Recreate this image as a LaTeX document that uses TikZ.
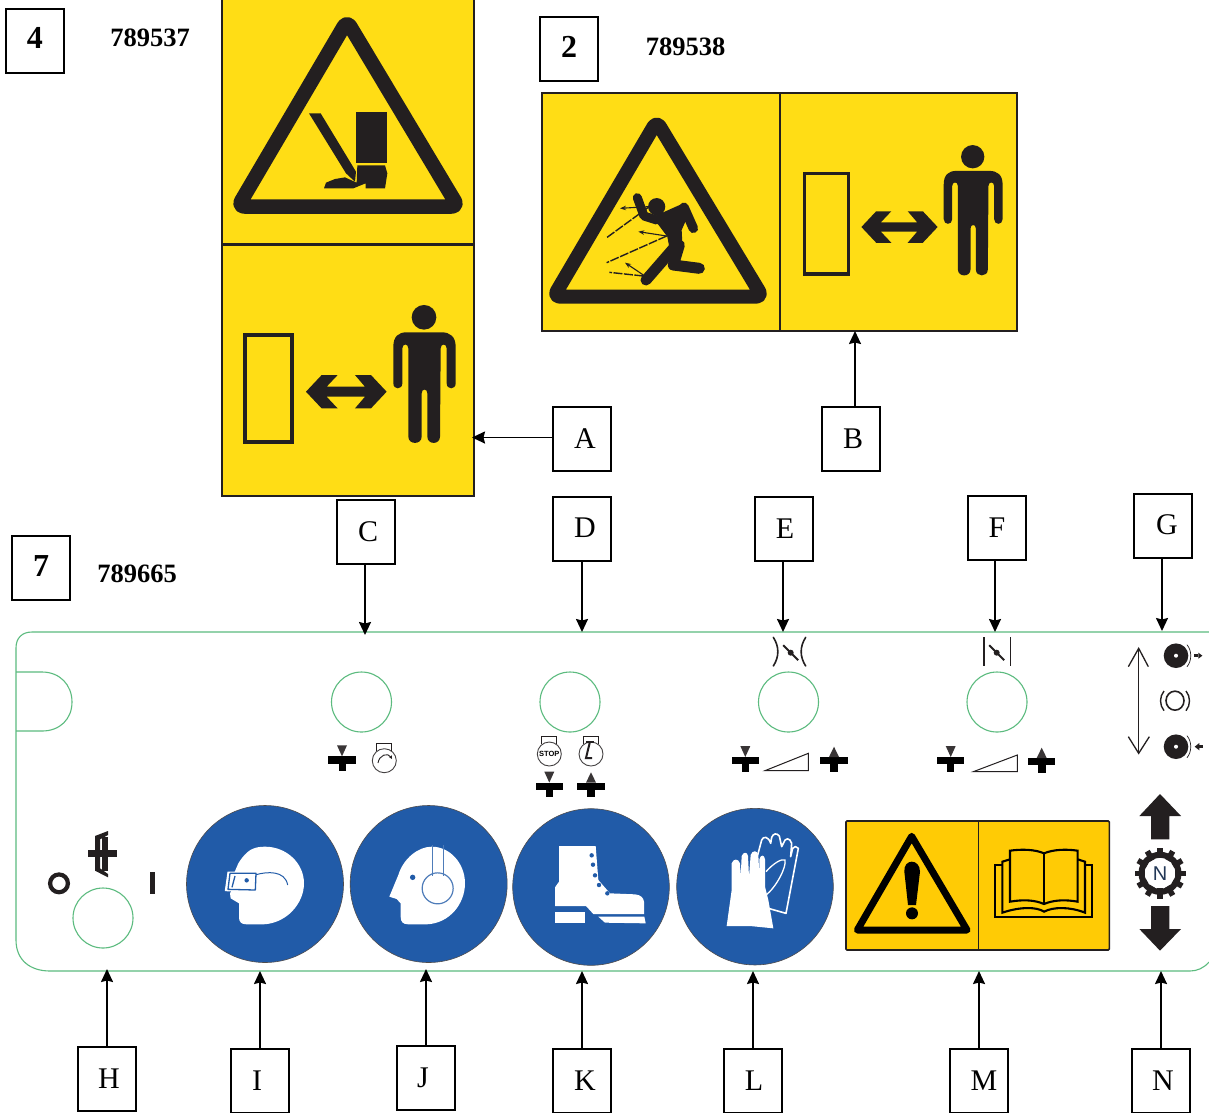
\documentclass[tikz,border=0pt]{standalone}
\usepackage{fontspec}
\setmainfont{Liberation Serif}
\newfontfamily\sansf{Liberation Sans}
\usetikzlibrary{arrows.meta}
\definecolor{ink}{HTML}{231F20}
\definecolor{signy}{HTML}{FFDD15}
\definecolor{signo}{HTML}{FFCB05}
\definecolor{mblue}{HTML}{215BA8}
\definecolor{pgreen}{HTML}{5CBB7F}
\tikzset{
  zoomed/.style 2 args={shift={(#1,#2)},x=0.33333pt,y=-0.33333pt},
  lab/.style={draw=black,line width=1.3pt,minimum width=58pt,minimum height=64pt,inner sep=0pt,font=\fontsize{30}{30}\selectfont},
  tag/.style={lab,font=\bfseries\fontsize{32}{32}\selectfont},
  num/.style={inner sep=0pt,font=\bfseries\fontsize{26.5}{26.5}\selectfont},
  conn/.style={draw=black,line width=1.8pt,-{Stealth[length=13pt,width=12pt,inset=1.5pt]}},
  tri/.style={draw=ink,line join=round,line width=14.5pt},
  pan/.style={draw=pgreen,line width=1.1pt},
  disc/.style={fill=mblue,draw=ink!80,line width=.6pt},
}
\newcommand{\tx}[3]{\raisebox{#2pt}{\kern#1pt #3}}
\newcommand{\manfig}[3]{\begin{scope}[shift={(#1,#2)},x=#3pt,y=-#3pt]\begin{scope}[shift={(-597,-67)}]
 \fill[ink] (597,67) circle[radius=37*#3pt];
 \fill[ink] (505,155) .. controls (505,125) and (520,112) .. (545,112) -- (650,112) .. controls (675,112) and (692,125) .. (692,155) -- (692,265) .. controls (692,285) and (665,285) .. (665,265) -- (665,160) .. controls (665,145) and (647,145) .. (647,160) -- (645,425) .. controls (645,450) and (607,450) .. (607,425) -- (607,295) .. controls (607,280) and (590,280) .. (590,295) -- (590,425) .. controls (590,450) and (550,450) .. (550,425) -- (550,160) .. controls (550,145) and (532,145) .. (532,160) -- (532,265) .. controls (532,285) and (505,285) .. (505,265) -- cycle;
\end{scope}\end{scope}}
\newcommand{\dblarrow}[3]{\begin{scope}[shift={(#1,#2)},x=#3pt,y=-#3pt]
 \fill[ink] (-121,0) -- (-74,-50) -- (-26,-50) -- (-59,-15) -- (56,-15) -- (26,-50) -- (74,-50) -- (121,0) -- (74,50) -- (26,50) -- (56,15) -- (-59,15) -- (-26,50) -- (-74,50) -- cycle;
\end{scope}}
\newcommand{\plusdn}[2]{\begin{scope}[shift={(#1,#2)}]
 \fill[black] (-13.7,-3.7) rectangle (13.7,3.7); \fill[black] (-3.5,3.7) rectangle (3.5,11);
 \fill[ink!90] (-5,-14.7) -- (5,-14.7) -- (0,-3.7) -- cycle;
\end{scope}}
\newcommand{\plusup}[2]{\begin{scope}[shift={(#1,#2)}]
 \fill[black] (-13.7,-3.7) rectangle (13.7,3.7); \fill[black] (-4,3.7) rectangle (4,11);
 \fill[ink!90] (-5,-3.7) -- (5,-3.7) -- (0,-14) -- cycle;
\end{scope}}
\newcommand{\engine}[2]{\begin{scope}[shift={(#1,#2)}]
 \draw[ink!85,line width=.9pt] (0,0) circle[radius=12pt];
 \draw[ink,line width=.9pt] (-7.5,-10) -- (-7.5,-17.5) -- (7.5,-17.5) -- (7.5,-10);
\end{scope}}
\newcommand{\butterfly}[2]{\begin{scope}[shift={(#1,#2)}]
 \draw[ink,line width=1.8pt] (-7.5,-7.5) -- (7.5,7.5);
 \fill[ink] (0,0) circle[radius=3pt];
\end{scope}}
\newcommand{\roll}[2]{\begin{scope}[shift={(#1,#2)}]
 \fill[ink] (0,0) circle[radius=12.3pt];
 \fill[white] (0,0) circle[radius=2pt];
 \draw[ink,line width=.7pt] (11,-11) .. controls (16,-5) and (16,5) .. (11,11);
\end{scope}}
\begin{document}
\begin{tikzpicture}[x=1pt,y=-1pt]
\useasboundingbox (0,0) rectangle (1209,1112);
\fill[white] (0,0) rectangle (1209,1112);

% ---- sign 4 ----
\fill[signy] (222,-3) rectangle (474,496);
\draw[ink,line width=2.2pt] (222,-3) -- (222,496) -- (474,496) -- (474,-3);
\draw[ink,line width=2.2pt] (222,244.5) -- (474,244.5);
\draw[tri,rounded corners=6.5pt] (347,21) -- (238,206.5) -- (458,206.5) -- cycle;
\begin{scope}[zoomed={220}{0}]
 \fill[ink] (407,335) rectangle (502,490);
 \fill[ink] (412,496) -- (495,496) -- (502,520) -- (495,565) -- (437,565) -- (437,550) -- (400,565) -- (312,565) -- (318,548) -- (345,537) -- (375,532) -- (410,548) -- cycle;
 \fill[ink] (267,340) -- (302,340) -- (408,515) -- (405,545) -- (378,520) -- cycle;
\end{scope}
\draw[ink,line width=4pt] (245.3,334.7) rectangle (292.3,441.7);
\dblarrow{346.3}{391.7}{0.33333}
\manfig{424}{317.3}{0.33333}

% ---- sign 2 ----
\fill[signy,draw=ink,line width=2.2pt] (542,93) rectangle (1017,331);
\draw[ink,line width=2pt] (779.5,93) -- (779.5,331);
\begin{scope}[zoomed={540}{90}]
 \draw[tri,rounded corners=6.5pt,line width=14pt] (350,94) -- (41,620) -- (667,620) -- cycle;
 \fill[ink] (350,350) circle[radius=8.6pt];
 \fill[ink] (345,378) -- (430,340) -- (448,368) -- (425,420) -- (428,480) -- (395,510) -- (382,440) -- (352,400) -- cycle;
 \draw[ink,line width=9pt,line cap=round,line join=round] (292,323) -- (312,378) -- (350,390);
 \draw[ink,line width=9.5pt,line cap=round,line join=round] (432,352) -- (460,415);
 \draw[ink,line width=11pt,line cap=round,line join=round] (418,465) -- (400,525) -- (478,535);
 \draw[ink,line width=11pt,line cap=round,line join=round] (405,470) -- (318,570);
 \draw[ink,line width=1.1pt,-{Stealth[length=6pt,width=4.5pt]}] (325,350) -- (240,355);
 \draw[ink,line width=1.1pt,-{Stealth[length=6pt,width=4.5pt]}] (380,438) -- (295,425);
 \draw[ink,line width=1.1pt,-{Stealth[length=6pt,width=4.5pt]}] (310,555) -- (255,518);
 \draw[ink,line width=1.4pt,dash pattern=on 9pt off 1.5pt] (325,352) -- (200,443);
 \draw[ink,line width=1.4pt,dash pattern=on 9pt off 1.5pt] (380,438) -- (200,518);
 \draw[ink,line width=1.4pt,dash pattern=on 9pt off 1.5pt] (310,558) -- (208,547);
\end{scope}
\draw[ink,line width=3.7pt] (804.5,173.5) rectangle (848.5,274);
\dblarrow{899.5}{227}{0.31500}
\manfig{972.7}{156.7}{0.31500}

% ---- panel 7 ----
\draw[pan] (1209,632) -- (32,632) .. controls (22,632) and (16,638) .. (16,648) -- (16,940) .. controls (16,960) and (30,971) .. (50,971) -- (1190,971) .. controls (1197,971) and (1204,968) .. (1209,962);
\draw[pan] (16,672) -- (42,672) .. controls (60,672) and (72,685) .. (72,702) .. controls (72,719) and (60,731) .. (42,731) -- (16,731);
\foreach \cx/\cy in {361.5/702,570/702,788.5/702,997/702,103/918}
  \draw[pgreen,line width=1.1pt] (\cx,\cy) circle[radius=30pt];

% symbols above/below knobs
\plusdn{342}{760}
\engine{384.3}{760.7}
\draw[ink,line width=.9pt,-{Stealth[length=3.5pt,width=3.5pt]}] (378,763) .. controls (379,755) and (388,752) .. (392,759);
\engine{549.3}{754}
\node[inner sep=0pt,font=\sansf\bfseries\fontsize{7.5}{7.5}\selectfont] (stoptxt) at (549.3,754) {STOP};
\engine{591}{754}
\draw[ink,line width=2pt] (586,741.5) -- (594,741.5);
\draw[ink,line width=2pt] (590,741.5) -- (586,758) -- (592,758);
\plusdn{549.3}{786.3}
\plusup{591}{786.3}
\begin{scope}[zoomed={720}{630}]
 \draw[ink,line width=1.6pt,line cap=round] (160,22) .. controls (178,50) and (178,80) .. (160,108);
 \draw[ink,line width=1.6pt,line cap=round] (257,22) .. controls (239,50) and (239,80) .. (257,108);
 \draw[ink,line width=1.5pt] (792,22) -- (792,108);
 \draw[ink,line width=1.5pt] (872,22) -- (872,108);
 \draw[ink,line width=1pt] (135,422) -- (265,370) -- (265,422) -- cycle;
 \draw[ink,line width=1pt] (760,425) -- (892,375) -- (892,425) -- cycle;
\end{scope}
\butterfly{790.7}{652.7}
\butterfly{996.7}{652.7}
\plusdn{745.3}{760.7}
\plusup{834}{760.7}
\plusdn{950.7}{760.7}
\plusup{1041.7}{761.7}

% right column
\begin{scope}[zoomed={1100}{630}]
 \draw[ink,line width=1.3pt,line join=miter] (85,110) -- (116,55) -- (145,110);
 \draw[ink,line width=1.3pt,line join=miter] (85,320) -- (116,370) -- (148,320);
 \draw[ink,line width=1.3pt] (116,55) -- (116,370);
 \draw[ink,line width=1.6pt] (225,212) ellipse[x radius=9pt,y radius=9.5pt];
 \draw[ink,line width=1.4pt] (192,183) .. controls (178,200) and (178,225) .. (192,242);
 \draw[ink,line width=1.4pt] (258,183) .. controls (272,200) and (272,225) .. (258,242);
 \fill[ink] (283,72) rectangle (295,82); \fill[ink] (295,68) -- (307,77) -- (295,86) -- cycle;
 \fill[ink] (298,345) rectangle (310,355); \fill[ink] (298,339) -- (284,350) -- (298,361) -- cycle;
 \fill[ink] (180,492) -- (243,558) -- (208,558) -- (208,628) -- (153,628) -- (153,558) -- (118,558) -- cycle;
 \fill[ink] (153,828) -- (208,828) -- (208,897) -- (243,897) -- (180,962) -- (118,897) -- (153,897) -- cycle;
\end{scope}
\roll{1176}{655.7}
\roll{1176}{746.7}
\begin{scope}[shift={(1160,873.3)}]
 \foreach \a in {0,30,...,330}
   \fill[ink,rotate=\a] (-2.8,-25.5) rectangle (2.8,-15);
 \draw[ink,line width=6pt] (0,0) circle[radius=18.5pt];
\end{scope}
\node[inner sep=0pt,text=ink!60!mblue,font=\sansf\fontsize{20}{20}\selectfont] (gearN) at (1160,873.3) {N};

% left switch
\begin{scope}[zoomed={20}{800}]
 \draw[ink,line width=4.2pt] (117,250) circle[radius=8.9pt];
 \fill[ink] (390,217) rectangle (404,282);
 \fill[ink] (225,108) -- (264,93) -- (264,105) -- (240,118) -- (240,205) -- (264,222) -- (264,232) -- (225,212) -- cycle;
 \fill[ink] (245,112) rectangle (264,212);
 \fill[ink] (205,150) rectangle (292,172);
 % blue discs
 \draw[disc] (735,252) circle[radius=78.5pt];
 \draw[disc] (1226,252) circle[radius=78.5pt];
 % goggles head
 \fill[white] (657,350) -- (657,310) -- (632,295) -- (630,280) -- (640,262) -- (640,225) -- (655,190) .. controls (680,150) and (700,140) .. (735,140) .. controls (800,140) and (852,190) .. (852,250) .. controls (852,310) and (800,370) .. (730,373) -- (680,373) .. controls (662,373) and (657,365) .. (657,350) -- cycle;
 \fill[white,draw=white,line width=1pt,line join=round] (624,216) -- (712,216) -- (710,276) -- (616,272) -- cycle;
 \draw[mblue,line width=1.3pt,line join=round] (630,220) -- (708,220) -- (706,270) -- (624,268) -- cycle;
 \draw[mblue,line width=1.3pt] (645,228) -- (636,262);
 \fill[mblue] (680,241) circle[radius=2.2pt];
 \draw[mblue,line width=1pt] (708,224) .. controls (740,215) and (795,210) .. (803,255);
 % headphones head
 \fill[white] (1142,350) -- (1142,310) -- (1130,297) -- (1108,290) -- (1135,225) .. controls (1150,175) and (1195,140) .. (1235,140) .. controls (1290,140) and (1335,190) .. (1335,250) .. controls (1335,310) and (1290,370) .. (1220,373) -- (1165,373) .. controls (1148,373) and (1142,365) .. (1142,350) -- cycle;
 \draw[mblue!80!white,line width=1.2pt] (1237,135) -- (1237,228);
 \draw[mblue!80!white,line width=1.2pt] (1270,135) -- (1270,228);
 \draw[mblue!80!white,line width=1.2pt] (1253,265) circle[radius=15.5pt];
 \fill[mblue] (1178,232) circle[radius=2.7pt];
\end{scope}

% boot and gloves
\begin{scope}[zoomed={510}{800}]
 \draw[disc] (243,261) circle[radius=78.3pt];
 \draw[disc] (735,260) circle[radius=78.3pt];
 \fill[white] (147,138) -- (257,138) -- (265,240) -- (300,280) -- (375,283) .. controls (392,285) and (400,292) .. (402,305) -- (402,342) -- (250,342) -- (228,318) -- (135,318) -- (135,262) -- (147,245) -- cycle;
 \fill[white] (135,335) rectangle (226,368);
 \fill[white] (265,350) -- (403,350) -- (407,370) -- (285,368) -- cycle;
 \foreach \dx/\dy in {245/166,249/194,255/226,267/255,292/280}
   \fill[mblue] (\dx,\dy) circle[radius=2.2pt];
 \draw[white,line width=1.6pt,line join=round] (775,325) -- (828,340) -- (865,145) .. controls (860,138) and (852,138) .. (848,145) -- (842,170) -- (845,130) .. controls (840,112) and (825,112) .. (820,130) -- (815,140) -- (808,108) .. controls (800,98) and (790,100) .. (785,112) -- (782,130) .. controls (775,108) and (760,108) .. (755,120) -- (743,165);
 \draw[white,line width=1.3pt] (768,215) .. controls (790,190) and (815,175) .. (825,180) .. controls (830,200) and (800,260) .. (768,285);
 \fill[white] (650,378) -- (665,270) -- (665,190) .. controls (670,175) and (685,175) .. (690,190) -- (692,230) -- (695,168) .. controls (700,155) and (712,155) .. (714,168) -- (717,230) -- (722,165) .. controls (727,150) and (742,150) .. (745,165) -- (748,225) -- (748,178) .. controls (752,163) and (763,163) .. (765,178) -- (765,260) -- (775,300) -- (790,385) -- (720,378) -- cycle;
\end{scope}

% book/warning sign
\begin{scope}[zoomed={840}{810}]
 \fill[signo,draw=ink,line width=1.6pt,rounded corners=1pt] (18,33) rectangle (808,420);
 \draw[ink,line width=1.4pt] (415,33) -- (415,420);
 \draw[black,line width=7pt,line join=round] (215,79) -- (52,360) -- (381,360) -- cycle;
 \fill[black] (193,185) .. controls (190,145) and (240,145) .. (240,185) -- (228,285) -- (204,285) -- cycle;
 \fill[black] (216,310) circle[radius=6pt];
 \draw[black,line width=2.1pt] (612,130) -- (612,282);
 \draw[black,line width=2.1pt,line join=miter] (612,130) .. controls (585,118) and (545,117) .. (510,122) -- (510,275) .. controls (550,268) and (585,270) .. (612,282) .. controls (640,270) and (675,268) .. (713,275) -- (713,122) .. controls (680,117) and (640,118) .. (612,130);
 \draw[black,line width=2.1pt,line join=miter] (510,148) -- (487,155) -- (487,308) .. controls (540,290) and (590,290) .. (612,305) .. controls (640,290) and (690,290) .. (735,308) -- (735,155) -- (713,148);
 \draw[black,line width=2.1pt,line join=miter] (487,165) -- (465,165) -- (465,322) -- (757,322) -- (757,165) -- (735,165);
\end{scope}

% ---- labels ----
\node[tag] (t4) at (35,41) {\raisebox{7pt}{4}};
\node[num] (n4) at (150,38) {789537};
\node[tag] (t2) at (569,49) {\raisebox{4pt}{2}};
\node[num] (n2) at (685.5,47) {789538};
\node[tag] (t7) at (41,568) {\raisebox{4pt}{7}};
\node[num] (n7) at (137,574) {789665};
\node[lab] (A) at (582,439) {\tx{6}{1}{A}};
\node[lab] (B) at (851,439) {\tx{4}{0}{B}};
\node[lab] (C) at (366,532) {\tx{4}{1}{C}};
\node[lab] (D) at (582,529) {\tx{6}{2}{D}};
\node[lab] (E) at (784,529) {\tx{2}{1}{E}};
\node[lab] (F) at (997,528) {\tx{0}{1}{F}};
\node[lab] (G) at (1163,526) {\tx{8}{2}{G}};
\node[lab] (H) at (107,1079) {\tx{4}{1}{H}};
\node[lab] (I) at (260,1081) {I\kern6pt};
\node[lab] (J) at (426,1078) {\raisebox{1pt}{J\kern6pt}};
\node[lab] (K) at (582,1081) {\tx{6}{0}{K}};
\node[lab] (L) at (753,1081) {\tx{2}{0}{L}};
\node[lab] (M) at (979,1081) {\tx{10}{0}{M}};
\node[lab] (N) at (1161,1081) {\tx{4}{0}{N}};

% ---- connectors ----
\coordinate (eA) at (472,437.5);
\coordinate (eB) at (855,331);
\coordinate (eC) at (365,635);
\coordinate (eD) at (582,632);
\coordinate (eE) at (783,632);
\coordinate (eF) at (995,632);
\coordinate (eG) at (1162,631);
\coordinate (eH) at (107,969);
\coordinate (eI) at (260,971);
\coordinate (eJ) at (426,969);
\coordinate (eK) at (582,971);
\coordinate (eL) at (753,971);
\coordinate (eM) at (979,971);
\coordinate (eN) at (1161,971);
\draw[conn] (eA -| A.west) -- (eA);
\draw[conn] (eB |- B.north) -- (eB);
\foreach \k in {C,D,E,F,G}
  \draw[conn] (e\k |- \k.south) -- (e\k);
\foreach \k in {H,I,J,K,L,M,N}
  \draw[conn] (e\k |- \k.north) -- (e\k);
\end{tikzpicture}
\end{document}
